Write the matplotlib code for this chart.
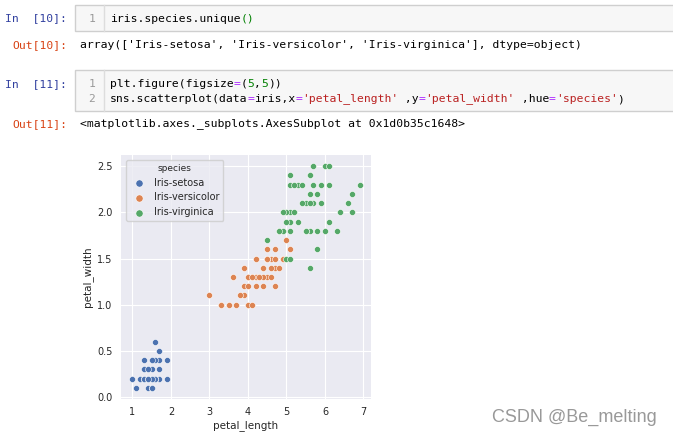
import matplotlib.pyplot as plt
import matplotlib.patches as mpatches

# ----------------------------
# Data (iris petal measurements)
# ----------------------------
species = ["Iris-setosa", "Iris-versicolor", "Iris-virginica"]
colors = ["#4C72B0", "#DD8452", "#55A868"]

setosa_length = [1.4, 1.4, 1.3, 1.5, 1.4, 1.7, 1.4, 1.5, 1.4, 1.5,
                 1.5, 1.6, 1.4, 1.1, 1.2, 1.5, 1.3, 1.4, 1.7, 1.5,
                 1.7, 1.5, 1.0, 1.7, 1.9, 1.6, 1.6, 1.5, 1.4, 1.6,
                 1.6, 1.5, 1.5, 1.4, 1.5, 1.2, 1.3, 1.5, 1.3, 1.5,
                 1.3, 1.3, 1.3, 1.6, 1.9, 1.4, 1.6, 1.4, 1.5, 1.4]
setosa_width = [0.2, 0.2, 0.2, 0.2, 0.2, 0.4, 0.3, 0.2, 0.2, 0.1,
                0.2, 0.2, 0.1, 0.1, 0.2, 0.4, 0.4, 0.3, 0.3, 0.3,
                0.2, 0.4, 0.2, 0.5, 0.2, 0.2, 0.4, 0.2, 0.2, 0.2,
                0.2, 0.4, 0.1, 0.2, 0.1, 0.2, 0.2, 0.1, 0.2, 0.2,
                0.3, 0.3, 0.2, 0.6, 0.4, 0.3, 0.2, 0.2, 0.2, 0.2]

versicolor_length = [4.7, 4.5, 4.9, 4.0, 4.6, 4.5, 4.7, 3.3, 4.6, 3.9,
                     3.5, 4.2, 4.0, 4.7, 3.6, 4.4, 4.5, 4.1, 4.5, 3.9,
                     4.8, 4.0, 4.9, 4.7, 4.3, 4.4, 4.8, 5.0, 4.5, 3.5,
                     3.8, 3.7, 3.9, 5.1, 4.5, 4.5, 4.7, 4.4, 4.1, 4.0,
                     4.4, 4.6, 4.0, 3.3, 4.2, 4.2, 4.2, 4.3, 3.0, 4.1]
versicolor_width = [1.4, 1.5, 1.5, 1.3, 1.5, 1.3, 1.6, 1.0, 1.3, 1.4,
                    1.0, 1.5, 1.0, 1.4, 1.3, 1.4, 1.5, 1.0, 1.5, 1.1,
                    1.8, 1.3, 1.5, 1.2, 1.3, 1.4, 1.4, 1.7, 1.5, 1.0,
                    1.1, 1.0, 1.2, 1.6, 1.5, 1.6, 1.5, 1.3, 1.3, 1.3,
                    1.2, 1.4, 1.2, 1.0, 1.3, 1.2, 1.3, 1.3, 1.1, 1.3]

virginica_length = [6.0, 5.1, 5.9, 5.6, 5.8, 6.6, 4.5, 6.3, 5.8, 6.1,
                    5.1, 5.3, 5.5, 5.0, 5.1, 5.3, 5.5, 6.7, 6.9, 5.0,
                    5.7, 4.9, 6.7, 4.9, 5.7, 6.0, 4.8, 4.9, 5.6, 5.8,
                    6.1, 6.4, 5.6, 5.1, 5.6, 6.1, 5.6, 5.5, 4.8, 5.4,
                    5.6, 5.1, 5.1, 5.9, 5.7, 5.2, 5.0, 5.2, 5.4, 5.1]
virginica_width = [2.5, 1.9, 2.1, 1.8, 2.2, 2.1, 1.7, 1.8, 1.8, 2.5,
                   2.0, 1.9, 2.1, 2.0, 2.4, 2.3, 1.8, 2.2, 2.3, 1.5,
                   2.3, 2.0, 2.0, 1.8, 2.1, 1.8, 1.8, 1.8, 2.1, 1.6,
                   1.9, 2.0, 2.2, 1.5, 1.4, 2.3, 2.4, 1.8, 1.8, 2.1,
                   2.4, 2.3, 1.9, 2.3, 2.5, 2.3, 1.9, 2.0, 2.3, 1.8]

lengths = [setosa_length, versicolor_length, virginica_length]
widths = [setosa_width, versicolor_width, virginica_width]

x_ticks = [1, 2, 3, 4, 5, 6, 7]
y_ticks = [0.0, 0.5, 1.0, 1.5, 2.0, 2.5]

W, H = 673, 438
MONO = "DejaVu Sans Mono"
FS = 8.2                    # code font size (pt)
CW = FS * 100 / 72 * 0.602  # char width in px

fig = plt.figure(figsize=(W / 100, H / 100), dpi=100)
fig.patch.set_facecolor("white")

# ----------------------------
# Notebook chrome (pixel coordinates overlay)
# ----------------------------
nb = fig.add_axes([0, 0, 1, 1], zorder=0)
nb.set_xlim(0, W)
nb.set_ylim(H, 0)
nb.axis("off")


def code_cell(top, bottom):
    nb.add_patch(mpatches.Rectangle((75, top), W + 10 - 75, bottom - top,
                                    facecolor="#F7F7F7", edgecolor="#CFCFCF", lw=1))
    nb.plot([104, 104], [top, bottom], color="#DDDDDD", lw=1)


def segs(x0, y, parts):
    i = 0
    for txt, col in parts:
        nb.text(x0 + i * CW, y, txt, family=MONO, fontsize=FS, color=col,
                ha="left", va="center")
        i += len(txt)


def prompt(y, label, col):
    nb.text(67, y, label, family=MONO, fontsize=FS, color=col, ha="right", va="center")


def lineno(y, n):
    nb.text(95, y, n, family=MONO, fontsize=FS, color="#999999", ha="right", va="center")


K, EQ, STR, NUM = "#000000", "#AA22FF", "#BA2121", "#008000"

code_cell(5, 31)
prompt(18.5, "In  [10]:", "#303F9F")
lineno(18.5, "1")
segs(110, 18.5, [("iris.species.unique", K), ("()", NUM)])

prompt(45, "Out[10]:", "#D84315")
segs(80, 45, [("array(['Iris-setosa', 'Iris-versicolor', 'Iris-virginica'], dtype=object)", K)])

code_cell(70, 111)
prompt(84, "In  [11]:", "#303F9F")
lineno(84, "1")
lineno(99, "2")
segs(110, 84, [("plt.figure(figsize", K), ("=", EQ), ("(", K), ("5", NUM),
               (",", K), ("5", NUM), ("))", K)])
segs(110, 99, [("sns.scatterplot(data", K), ("=", EQ), ("iris,x", K), ("=", EQ),
               ("'petal_length'", STR), (" ,y", K), ("=", EQ), ("'petal_width'", STR),
               (" ,hue", K), ("=", EQ), ("'species'", STR), (")", K)])

prompt(124, "Out[11]:", "#D84315")
segs(80, 124, [("<matplotlib.axes._subplots.AxesSubplot at 0x1d0b35c1648>", K)])

nb.text(574, 417, "CSDN @Be_melting", family="Liberation Sans", fontsize=13,
        color="#999999", ha="center", va="center")

# ----------------------------
# Scatter plot
# ----------------------------
ax = fig.add_axes([121 / W, 1 - 399 / H, 250 / W, 244 / H], zorder=1)
ax.set_facecolor("#EAEAF2")
for s in ax.spines.values():
    s.set_visible(False)
ax.grid(True, color="white", lw=0.8)
ax.set_axisbelow(True)

for name, col, xs, ys in zip(species, colors, lengths, widths):
    ax.scatter(xs, ys, s=19, color=col, edgecolor="white", linewidth=0.4, label=name)

ax.set_xlim(0.705, 7.195)
ax.set_ylim(-0.02, 2.62)
ax.set_xticks(x_ticks)
ax.set_yticks(y_ticks)
ax.set_yticklabels([f"{v:.1f}" for v in y_ticks])
ax.tick_params(length=0, pad=6, labelsize=7, labelcolor="#262626")
ax.set_xlabel("petal_length", fontsize=7.5, color="#262626", labelpad=2)
ax.set_ylabel("petal_width", fontsize=7.5, color="#262626", labelpad=3)

leg = ax.legend(loc="upper left", title="species", fontsize=7, title_fontsize=6.5,
                frameon=True, facecolor="#EAEAF2", edgecolor="#CCCCCC", framealpha=0.8,
                borderpad=0.4, labelspacing=0.5, handletextpad=0.5, handlelength=2.0,
                borderaxespad=0.5, markerscale=1.2)
leg.get_title().set_color("#262626")
for t in leg.get_texts():
    t.set_color("#262626")

fig.savefig("out.png", dpi=100)
